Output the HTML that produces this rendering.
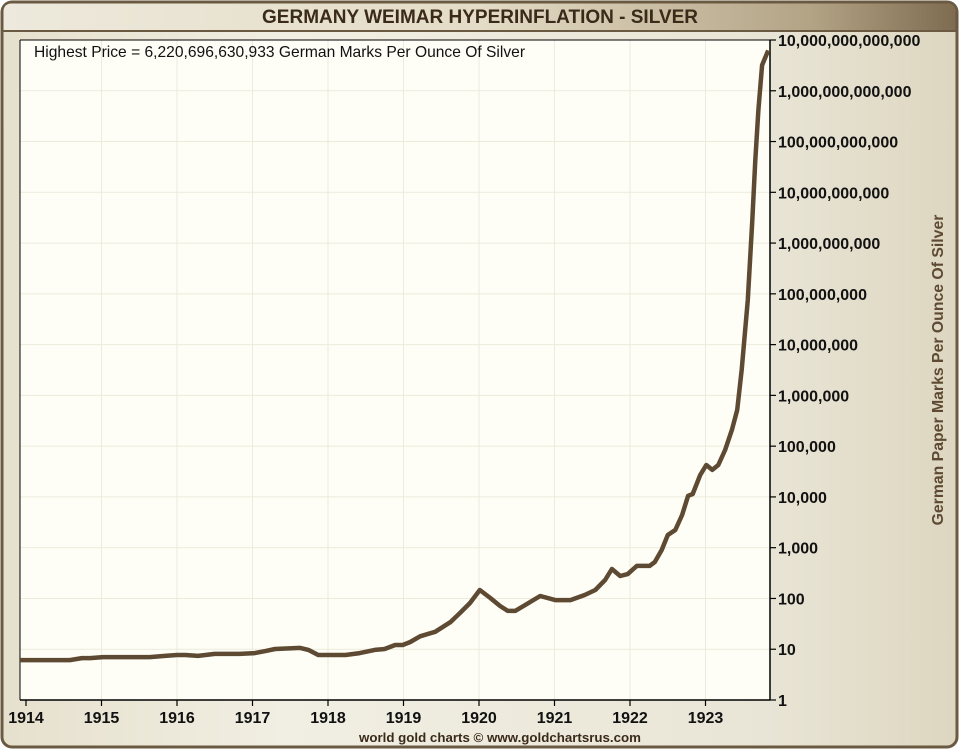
<!DOCTYPE html>
<html><head><meta charset="utf-8"><style>
html,body{margin:0;padding:0;width:960px;height:750px;overflow:hidden;background:#fff;}
svg{display:block;font-family:"Liberation Sans",Arial,sans-serif;}
</style></head><body>
<svg id="chart" width="960" height="750" viewBox="0 0 960 750">
<defs>
<linearGradient id="bg" x1="0" x2="1" y1="0" y2="0"><stop offset="0" stop-color="#e6e0cd"/><stop offset="0.3" stop-color="#f1efe3"/><stop offset="0.8" stop-color="#e9e5d6"/><stop offset="1" stop-color="#ddd6c0"/></linearGradient>
<linearGradient id="tb" x1="0" x2="1" y1="0" y2="0"><stop offset="0" stop-color="#ede9dc"/><stop offset="0.5" stop-color="#e4dcc6"/><stop offset="0.85" stop-color="#b3a385"/><stop offset="1" stop-color="#7e6c50"/></linearGradient>
</defs>
<rect x="2" y="2" width="955" height="745" rx="10" fill="url(#bg)" stroke="#6b5a42" stroke-width="3"/>
<path d="M3.5 31 L3.5 12 Q3.5 3.5 12 3.5 L947 3.5 Q955.5 3.5 955.5 12 L955.5 31 Z" fill="url(#tb)"/>
<line x1="3" y1="31" x2="956" y2="31" stroke="#6b5a42" stroke-width="2"/>
<text x="480" y="23" text-anchor="middle" font-size="19" font-weight="bold" fill="#3a2a1a">GERMANY WEIMAR HYPERINFLATION - SILVER</text>
<rect x="20" y="40" width="750" height="660" fill="#fefef6"/>
<g id="grid"></g>
<g id="axes"></g>
<path id="series" fill="none" stroke="#5e4a33" stroke-width="4.5" stroke-linejoin="round"/>
<text x="34" y="57" font-size="15.6" fill="#111">Highest Price = 6,220,696,630,933 German Marks Per Ounce Of Silver</text>
<text transform="translate(943,370) rotate(-90)" text-anchor="middle" font-size="15.8" font-weight="bold" fill="#5e4a33">German Paper Marks Per Ounce Of Silver</text>
<text x="500" y="742" text-anchor="middle" font-size="13.3" font-weight="bold" fill="#3a2a1a">world gold charts © www.goldchartsrus.com</text>
</svg>
<script>
const years = [1914,1915,1916,1917,1918,1919,1920,1921,1922,1923];
const yTickExps = [0,1,2,3,4,5,6,7,8,9,10,11,12,13];
const yTickLabels = ["1","10","100","1,000","10,000","100,000","1,000,000","10,000,000","100,000,000","1,000,000,000","10,000,000,000","100,000,000,000","1,000,000,000,000","10,000,000,000,000"];
const dates = [1913.92,1914.58,1914.74,1914.85,1915.02,1915.38,1915.64,1915.84,1916.0,1916.11,1916.28,1916.5,1916.83,1917.03,1917.17,1917.3,1917.63,1917.74,1917.87,1918.0,1918.23,1918.42,1918.62,1918.75,1918.89,1918.99,1919.09,1919.22,1919.42,1919.62,1919.75,1919.88,1920.01,1920.15,1920.28,1920.38,1920.48,1920.61,1920.81,1921.01,1921.21,1921.40,1921.54,1921.67,1921.76,1921.87,1921.97,1922.09,1922.26,1922.33,1922.42,1922.50,1922.60,1922.69,1922.77,1922.83,1922.93,1923.01,1923.09,1923.17,1923.26,1923.35,1923.42,1923.48,1923.56,1923.62,1923.66,1923.70,1923.75,1923.83];
const prices = [6.1,6.1,6.7,6.7,7.0,7.0,7.0,7.4,7.7,7.7,7.4,8.1,8.1,8.4,9.2,10.1,10.6,9.7,7.7,7.7,7.7,8.4,9.7,10.1,12.1,12.1,13.9,18,22,34,52,81,147,102,71,57,57,74,112,93,93,117,147,231,380,277,302,437,437,525,900,1780,2230,4400,10500,11400,27000,42500,34000,42500,84000,209000,515000,3.2e6,7.6e7,2.8e9,4.3e10,4.2e11,3.2e12,6.2e12];
const NS="http://www.w3.org/2000/svg";
const L=20,R=770,T=40,B=700;
function xs(d){return 26+(d-1914)*75.5;}
function ys(v){return B-(Math.log10(v)/13)*(B-T);}
function mk(tag,attrs,parent){const e=document.createElementNS(NS,tag);for(const k in attrs)e.setAttribute(k,attrs[k]);parent.appendChild(e);return e;}
const grid=document.getElementById('grid'),axes=document.getElementById('axes');
yTickExps.forEach((e,i)=>{
  const y=ys(Math.pow(10,e));
  if(e>0&&e<13){const g=mk('line',{x1:L,x2:R,y1:y,y2:y,stroke:'#ecebdc','stroke-width':1},grid);
  
  }
  mk('line',{x1:R,x2:R+6,y1:y,y2:y,stroke:'#000','stroke-width':1.2},axes);
  const t=mk('text',{x:R+8,y:y+6,'font-size':16,'font-weight':'bold',fill:'#111'},axes);
  t.textContent=yTickLabels[i];
  
  
});
years.forEach(yr=>{
  const x=xs(yr);
  if(yr>1914){const g=mk('line',{x1:x,x2:x,y1:T,y2:B,stroke:'#ecebdc','stroke-width':1},grid);
  
  }
  mk('line',{x1:x,x2:x,y1:B,y2:B+6,stroke:'#000','stroke-width':1.2},axes);
  const t=mk('text',{x:x,y:723,'text-anchor':'middle','font-size':16,'font-weight':'bold',fill:'#111'},axes);
  t.textContent=yr;
  
  
});
const xa=mk('line',{x1:L,x2:R,y1:B,y2:B,stroke:'#000','stroke-width':1.5},axes);


const ya=mk('line',{x1:R,x2:R,y1:T,y2:B,stroke:'#000','stroke-width':1.5},axes);


const tl=mk('line',{x1:L,x2:R,y1:T,y2:T,stroke:'#000','stroke-width':1},axes);


const ll=mk('line',{x1:L,x2:L,y1:T,y2:B,stroke:'#000','stroke-width':1},axes);


document.getElementById('series').setAttribute('d',dates.map((d,i)=>(i?'L':'M')+xs(d).toFixed(1)+' '+ys(prices[i]).toFixed(1)).join(' '));
</script>
</body></html>
